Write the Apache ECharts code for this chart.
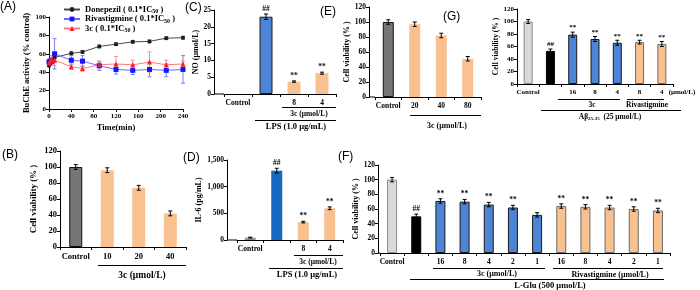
<!DOCTYPE html>
<html>
<head>
<meta charset="utf-8">
<script src="https://cdn.jsdelivr.net/npm/echarts@6/dist/echarts.min.js"></script>
<style>
html, body { margin: 0; padding: 0; background: #fff; }
#chart { width: 700px; height: 290px; }
</style>
</head>
<body>
<div id="chart"></div>
<script>
// (A) BuChE activity vs time
var timeA = [0, 2, 5, 10, 40, 60, 90, 120, 150, 180, 210, 240];
var donepezilA = [47, 49, 51, 56, 60.5, 62, 68, 70.5, 73, 73.5, 77, 77.5];
var donepezilErr = [1, 1, 1, 1.5, 1.5, 1.5, 1.5, 1.5, 1.5, 1.5, 1.5, 1.5];
var rivaA = [51, 52, 52, 60, 53, 52, 47, 43, 42, 43, 42, 43];
var rivaErr = [3, 3, 4, 16.5, 5, 6, 5, 5, 4.5, 8, 7, 15];
var c3A = [50, 52, 54, 53, 46, 44, 48, 49, 48, 51, 48, 49];
var c3Err = [3, 3, 4, 6, 3, 3, 3, 8, 5, 11, 5, 3];

// (B) cell viability
var catsB = ['Control', '10', '20', '40'];
var valsB = [100, 96, 74, 42];
var errB = [3, 3, 3, 3];
var marksB = ['', '', '', ''];

// (C) NO
var catsC = ['Control', '', '8', '4'];
var valsC = [0, 23, 3.7, 6.2];
var errC = [0, 0.8, 0.2, 0.3];
var marksC = ['', '##', '**', '**'];

// (D) IL-6
var catsD = ['Control', '', '8', '4'];
var valsD = [45, 1300, 335, 595];
var errD = [8, 45, 15, 25];
var marksD = ['', '##', '**', '**'];

// (E) cell viability
var catsE = ['Control', '20', '40', '80'];
var valsE = [100, 97, 82, 51];
var errE = [3, 3, 3, 3];
var marksE = ['', '', '', ''];

// (F) L-Glu
var catsF = ['Control', '', '16', '8', '4', '2', '1', '16', '8', '4', '2', '1'];
var valsF = [100, 50, 71, 70, 66, 62, 52, 64, 63, 62, 60, 58];
var errF = [3, 3, 3, 3, 3, 3, 3, 3, 3, 3, 3, 3];
var marksF = ['', '##', '**', '**', '**', '**', '', '**', '**', '**', '**', '**'];

// (G) Abeta 25-35
var catsG = ['Control', '', '16', '8', '4', '8', '4'];
var valsG = [100, 53, 79, 72, 66, 67, 64];
var errG = [3, 3, 4, 4, 4, 3, 4];
var marksG = ['', '##', '**', '**', '**', '**', '**'];

var SERIF = 'Liberation Serif';
var SANS = 'Liberation Sans';

var STYLE = {
    gray:   { color: '#767676', borderColor: '#111', borderWidth: 1 },
    peach:  { color: '#f9c190', borderColor: '#f9c190', borderWidth: 0 },
    peachB: { color: '#f9c190', borderColor: '#6b6b6b', borderWidth: 1 },
    blue:   { color: '#4d84d6', borderColor: '#1a1a1a', borderWidth: 1 },
    deep:   { color: '#1767c3', borderColor: '#1767c3', borderWidth: 0 },
    light:  { color: '#d9d9d9', borderColor: '#8a8a8a', borderWidth: 1 },
    black:  { color: '#000', borderColor: '#000', borderWidth: 1 }
};

var panels = [
    { grid: { left: 60, top: 151, width: 126, height: 96 }, yOff: 0, cats: catsB, vals: valsB, errs: errB, marks: marksB,
      colors: ['gray', 'peach', 'peach', 'peach'], max: 120, interval: 20, yName: 'Cell viability (% )', nameGap: 22, fs: 8.5, barWidth: 13 },
    { grid: { left: 224, top: 10, width: 112, height: 84 }, yOff: 10, cats: catsC, vals: valsC, errs: errC, marks: marksC,
      colors: ['peach', 'blue', 'peach', 'peach'], max: 25, interval: 5, yName: 'NO (\u03bcmol/L)', nameGap: 12, fs: 7.5, barWidth: 13 },
    { grid: { left: 237, top: 160, width: 106, height: 80 }, yOff: 10, cats: catsD, vals: valsD, errs: errD, marks: marksD,
      colors: ['light', 'deep', 'peach', 'peach'], max: 1500, interval: 500, yName: 'IL-6 (pg/mL)', nameGap: 18, fs: 7.5, barWidth: 11 },
    { grid: { left: 375, top: 7, width: 106, height: 90 }, yOff: 6, cats: catsE, vals: valsE, errs: errE, marks: marksE,
      colors: ['gray', 'peach', 'peach', 'peach'], max: 120, interval: 20, yName: 'Cell viability (% )', nameGap: 15, fs: 7.5, barWidth: 11 },
    { grid: { left: 380, top: 165, width: 290, height: 88 }, yOff: 2, cats: catsF, vals: valsF, errs: errF, marks: marksF,
      colors: ['light', 'black', 'blue', 'blue', 'blue', 'blue', 'blue', 'peachB', 'peachB', 'peachB', 'peachB', 'peachB'],
      max: 120, interval: 20, yName: 'Cell viability (% )', nameGap: 18, fs: 7.5, barWidth: 10 },
    { grid: { left: 517, top: 9, width: 156, height: 75 }, yOff: 0, cats: catsG, vals: valsG, errs: errG, marks: marksG,
      colors: ['light', 'black', 'blue', 'blue', 'blue', 'peachB', 'peachB'],
      max: 120, interval: 20, yName: 'Cell viability (% )', nameGap: 10, fs: 7, barWidth: 9 }
];

function errRender(marks, fs, stroke) {
    return function (params, api) {
        var i = params.dataIndex;
        var x = api.value(0), v = api.value(1), e = api.value(2);
        var top = api.coord([x, v + e]);
        var bot = api.coord([x, v - e]);
        var s = { stroke: stroke, lineWidth: 1 };
        var kids = [];
        if (e > 0) {
            kids.push({ type: 'line', shape: { x1: top[0], y1: top[1], x2: bot[0], y2: bot[1] }, style: s });
            kids.push({ type: 'line', shape: { x1: top[0] - 2, y1: top[1], x2: top[0] + 2, y2: top[1] }, style: s });
            kids.push({ type: 'line', shape: { x1: bot[0] - 2, y1: bot[1], x2: bot[0] + 2, y2: bot[1] }, style: s });
        }
        if (marks && marks[i]) {
            kids.push({ type: 'text', x: top[0], y: top[1] - 1,
                style: { text: marks[i], fontSize: fs, fontWeight: 'bold', fontFamily: SERIF, fill: '#000', align: 'center', verticalAlign: 'bottom' } });
        }
        return { type: 'group', children: kids };
    };
}

function lab(fs) {
    return { fontFamily: SERIF, fontWeight: 'bold', fontSize: fs, color: '#000' };
}
var axisLine = { show: true, onZero: false, lineStyle: { color: '#000', width: 1 } };
var axisTick = { show: true, length: 3, lineStyle: { color: '#000', width: 1 } };

var grids = [], xAxes = [], yAxes = [], series = [], graphics = [];

// panel A
grids.push({ left: 49, top: 17, width: 134, height: 92 });
xAxes.push({ type: 'value', gridIndex: 0, min: 0, max: 240, interval: 40, name: 'Time(min)', nameLocation: 'middle', nameGap: 14,
    nameTextStyle: lab(8.5), axisLine: axisLine, axisTick: axisTick, splitLine: { show: false }, axisLabel: Object.assign(lab(7), { margin: 4 }) });
yAxes.push({ type: 'value', gridIndex: 0, min: 0, max: 100, interval: 20, name: 'BuChE activity (% control)', nameLocation: 'middle', nameGap: 16,
    nameTextStyle: lab(8.5), axisLine: axisLine, axisTick: axisTick, splitLine: { show: false }, axisLabel: Object.assign(lab(7), { margin: 3 }) });

var lineSets = [
    { name: 'Donepezil', vals: donepezilA, errs: donepezilErr, dot: '#1e1e1e', line: '#4a4a4a', err: '#4a4a4a', symbol: 'circle', size: 4 },
    { name: 'Rivastigmine', vals: rivaA, errs: rivaErr, dot: '#1515ff', line: '#6a6aff', err: '#7d7dff', symbol: 'rect', size: 5 },
    { name: '3c', vals: c3A, errs: c3Err, dot: '#ff1e1e', line: '#ff7a7a', err: '#ff8a8a', symbol: 'triangle', size: 5 }
];
lineSets.forEach(function (ls) {
    var errData = [];
    var pts = [];
    for (var i = 0; i < timeA.length; i++) {
        pts.push([timeA[i], ls.vals[i]]);
        errData.push([timeA[i], ls.vals[i], ls.errs[i]]);
    }
    series.push({ type: 'custom', xAxisIndex: 0, yAxisIndex: 0, data: errData, renderItem: errRender(null, 7, ls.err), z: 2, silent: true });
    series.push({ type: 'line', name: ls.name, xAxisIndex: 0, yAxisIndex: 0, data: pts, symbol: ls.symbol, symbolSize: ls.size,
        itemStyle: { color: ls.dot }, lineStyle: { color: ls.line, width: 1 }, z: 3 });
});

// bar panels
panels.forEach(function (p, k) {
    var gi = k + 1;
    grids.push(p.grid);
    xAxes.push({ type: 'category', gridIndex: gi, data: p.cats, axisLine: axisLine, axisTick: axisTick,
        axisLabel: Object.assign(lab(p.fs), { interval: 0, margin: 5 }) });
    yAxes.push({ type: 'value', gridIndex: gi, min: 0, max: p.max, interval: p.interval, offset: p.yOff,
        name: p.yName, nameLocation: 'middle', nameGap: p.nameGap + (p.max >= 1000 ? 6 : 0), nameTextStyle: lab(p.fs + 0.5),
        axisLine: axisLine, axisTick: axisTick, splitLine: { show: false }, axisLabel: Object.assign(lab(p.fs), { margin: 3 }) });
    var bars = p.vals.map(function (v, i) {
        return { value: v, itemStyle: STYLE[p.colors[i]] };
    });
    series.push({ type: 'bar', xAxisIndex: gi, yAxisIndex: gi, data: bars, barWidth: p.barWidth, silent: true });
    series.push({ type: 'custom', xAxisIndex: gi, yAxisIndex: gi, silent: true, z: 4,
        data: p.vals.map(function (v, i) { return [i, v, p.errs[i]]; }),
        renderItem: errRender(p.marks, p.fs, '#000') });
    if (p.yOff) {
        var yb = p.grid.top + p.grid.height;
        graphics.push({ type: 'line', shape: { x1: p.grid.left - p.yOff, y1: yb, x2: p.grid.left, y2: yb }, style: { stroke: '#000', lineWidth: 1 } });
    }
});

function hline(x1, x2, y) {
    graphics.push({ type: 'line', shape: { x1: x1, y1: y + 0.5, x2: x2, y2: y + 0.5 }, style: { stroke: '#000', lineWidth: 1 } });
}
function note(x, y, text, fs, rich) {
    var st = { text: text, x: x, y: y, fontSize: fs, fontWeight: 'bold', fontFamily: SERIF, fill: '#000', align: 'center', verticalAlign: 'middle' };
    if (rich) st.rich = rich;
    graphics.push({ type: 'text', style: st });
}
function letter(x, y, t) {
    graphics.push({ type: 'text', style: { text: t, x: x, y: y, fontSize: 12, fontFamily: SANS, fill: '#000', align: 'left', verticalAlign: 'middle' } });
}

// group labels under the axes
hline(98, 186, 265); note(142, 276, '3c (\u03bcmol/L)', 9.5);
hline(282, 336, 107); note(309, 114, '3c (\u03bcmol/L)', 7.5);
hline(255, 336, 120); note(296, 127, 'LPS (1.0 \u03bcg/mL)', 8.5);
hline(294, 343, 255); note(318, 262, '3c (\u03bcmol/L)', 7.5);
hline(269, 343, 268); note(307, 275, 'LPS (1.0 \u03bcg/mL)', 8.5);
hline(410, 481, 115); note(447, 126, '3c (\u03bcmol/L)', 8);
hline(433, 545, 268); note(497, 274, '3c (\u03bcmol/L)', 8);
hline(553, 663, 268); note(610, 275, 'Rivastigmine (\u03bcmol/L)', 8);
hline(410, 664, 279); note(550, 286, 'L-Glu (500 \u03bcmol/L)', 8.5);
note(682, 92, '(\u03bcmol/L)', 7);
hline(558, 620, 99); note(592, 105, '3c', 7.5);
hline(627, 664, 99); note(647, 105, 'Rivastigmine', 7.5);
hline(541, 681, 110);
note(610, 117, '{a|A\u03b2}{s|25-35}{a|  (25 \u03bcmol/L)}', 7.5, {
    a: { fontFamily: SERIF, fontWeight: 'bold', fontSize: 7.5, fill: '#000' },
    s: { fontFamily: SERIF, fontWeight: 'bold', fontSize: 5, fill: '#000', padding: [4, 0, 0, 0] }
});

letter(0, 7, '(A)');
letter(2, 155, '(B)');
letter(185, 8, '(C)');
letter(183, 158, '(D)');
letter(320, 12, '(E)');
letter(338, 157, '(F)');
letter(443, 17, '(G)');

var option = {
    animation: false,
    legend: {
        data: ['Donepezil', 'Rivastigmine', '3c'],
        orient: 'vertical', left: 58, top: 0, itemGap: 0, itemWidth: 16, itemHeight: 6,
        formatter: function (n) { return '{t|' + n + ' ( 0.1*IC}{s|50}{t| )}'; },
        textStyle: {
            rich: {
                t: { fontFamily: SERIF, fontWeight: 'bold', fontSize: 8.5, color: '#000' },
                s: { fontFamily: SERIF, fontWeight: 'bold', fontSize: 6, color: '#000', padding: [4, 0, 0, 0] }
            }
        }
    },
    grid: grids,
    xAxis: xAxes,
    yAxis: yAxes,
    series: series,
    graphic: graphics
};
var echart = echarts.init(document.getElementById('chart'));
echart.setOption(option, true);
</script>
</body>
</html>
